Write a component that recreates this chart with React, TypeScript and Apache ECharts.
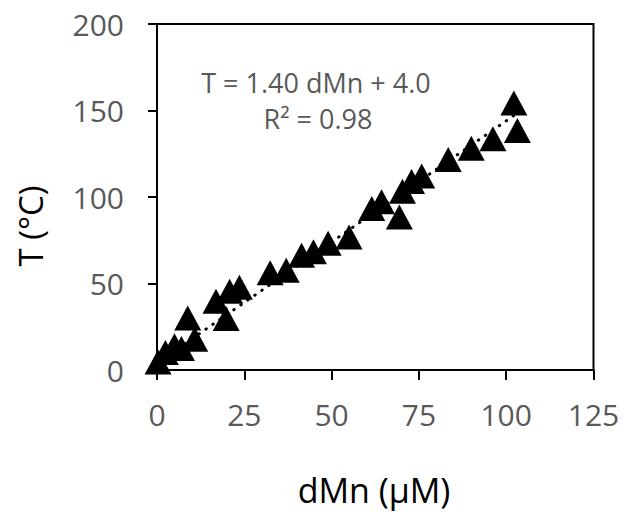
import React, { useEffect, useRef } from "react";
import * as echarts from "echarts";

const dMn = [0.3, 2.4, 5.0, 7.0, 8.8, 10.8, 16.9, 19.8, 20.8, 23.6, 32.4, 37.0, 41.4, 44.8, 49.0, 55.0, 61.5, 64.3, 69.4, 70.3, 72.9, 75.8, 83.4, 90.0, 96.2, 102.2, 103.2];
const temp = [4.6, 10.1, 14.0, 12.5, 30.0, 17.8, 39.8, 29.7, 45.5, 47.8, 56.2, 57.6, 66.3, 68.3, 73.2, 76.9, 93.4, 97.3, 88.5, 103.3, 109.0, 112.1, 121.7, 128.2, 133.6, 154.4, 138.4];
const slope = 1.4;
const intercept = 4.0;
const trendRange = [0, 103.2];
const xTicks = { min: 0, max: 125, interval: 25 };
const yTicks = { min: 0, max: 200, interval: 50 };
const equationText = "T = 1.40 dMn + 4.0";
const r2Text = "R² = 0.98";
const xTitle = "dMn (µM)";
const yTitle = "T (°C)";

const FONT = "'Open Sans', sans-serif";

export default function App() {
  const ref = useRef<HTMLDivElement>(null);
  useEffect(() => {
    if (!ref.current) return;
    const chart = echarts.init(ref.current, undefined, { renderer: "svg" });
    const points = dMn.map((x, i) => [x, temp[i]]);
    const trend = trendRange.map((x) => [x, slope * x + intercept]);
    chart.setOption({
      animation: false,
      backgroundColor: "#fff",
      grid: {
        left: 157,
        right: 31.5,
        top: 24,
        bottom: 146,
        show: true,
        borderColor: "#000",
        borderWidth: 2,
        backgroundColor: "transparent",
      },
      xAxis: {
        type: "value",
        min: xTicks.min,
        max: xTicks.max,
        interval: xTicks.interval,
        axisLine: { show: true, lineStyle: { color: "#000", width: 2 } },
        axisTick: { show: true, inside: false, length: 10, lineStyle: { color: "#000", width: 2 } },
        splitLine: { show: false },
        axisLabel: { color: "#595959", fontSize: 30, fontFamily: FONT, margin: 29 },
      },
      yAxis: {
        type: "value",
        min: yTicks.min,
        max: yTicks.max,
        interval: yTicks.interval,
        axisLine: { show: true, lineStyle: { color: "#000", width: 2 } },
        axisTick: { show: true, inside: false, length: 9, lineStyle: { color: "#000", width: 2 } },
        splitLine: { show: false },
        axisLabel: { color: "#595959", fontSize: 30, fontFamily: FONT, margin: 33 },
      },
      series: [
        {
          type: "scatter",
          data: points,
          symbol: "triangle",
          symbolSize: [27, 25],
          itemStyle: { color: "#000", opacity: 1 },
          z: 2,
        },
        {
          type: "line",
          data: trend,
          showSymbol: false,
          symbol: "none",
          lineStyle: { color: "#000", width: 3, type: [0.5, 8], cap: "round" },
          z: 3,
        },
      ],
      graphic: [
        {
          type: "text",
          x: 316,
          y: 82,
          style: {
            text: equationText,
            fill: "#595959",
            font: `27px ${FONT}`,
            textAlign: "center",
            textVerticalAlign: "middle",
          },
        },
        {
          type: "text",
          x: 318,
          y: 118,
          style: {
            text: r2Text,
            fill: "#595959",
            font: `27px ${FONT}`,
            textAlign: "center",
            textVerticalAlign: "middle",
          },
        },
        {
          type: "text",
          x: 374,
          y: 490,
          style: {
            text: xTitle,
            fill: "#000",
            font: `34px ${FONT}`,
            textAlign: "center",
            textVerticalAlign: "middle",
          },
        },
        {
          type: "text",
          x: 30,
          y: 226,
          rotation: Math.PI / 2,
          style: {
            text: yTitle,
            fill: "#000",
            font: `33px ${FONT}`,
            textAlign: "center",
            textVerticalAlign: "middle",
          },
        },
      ],
    });
    return () => chart.dispose();
  }, []);
  return (
    <div
      ref={ref}
      style={{ position: "fixed", left: 0, top: 0, width: 625, height: 516 }}
    />
  );
}
